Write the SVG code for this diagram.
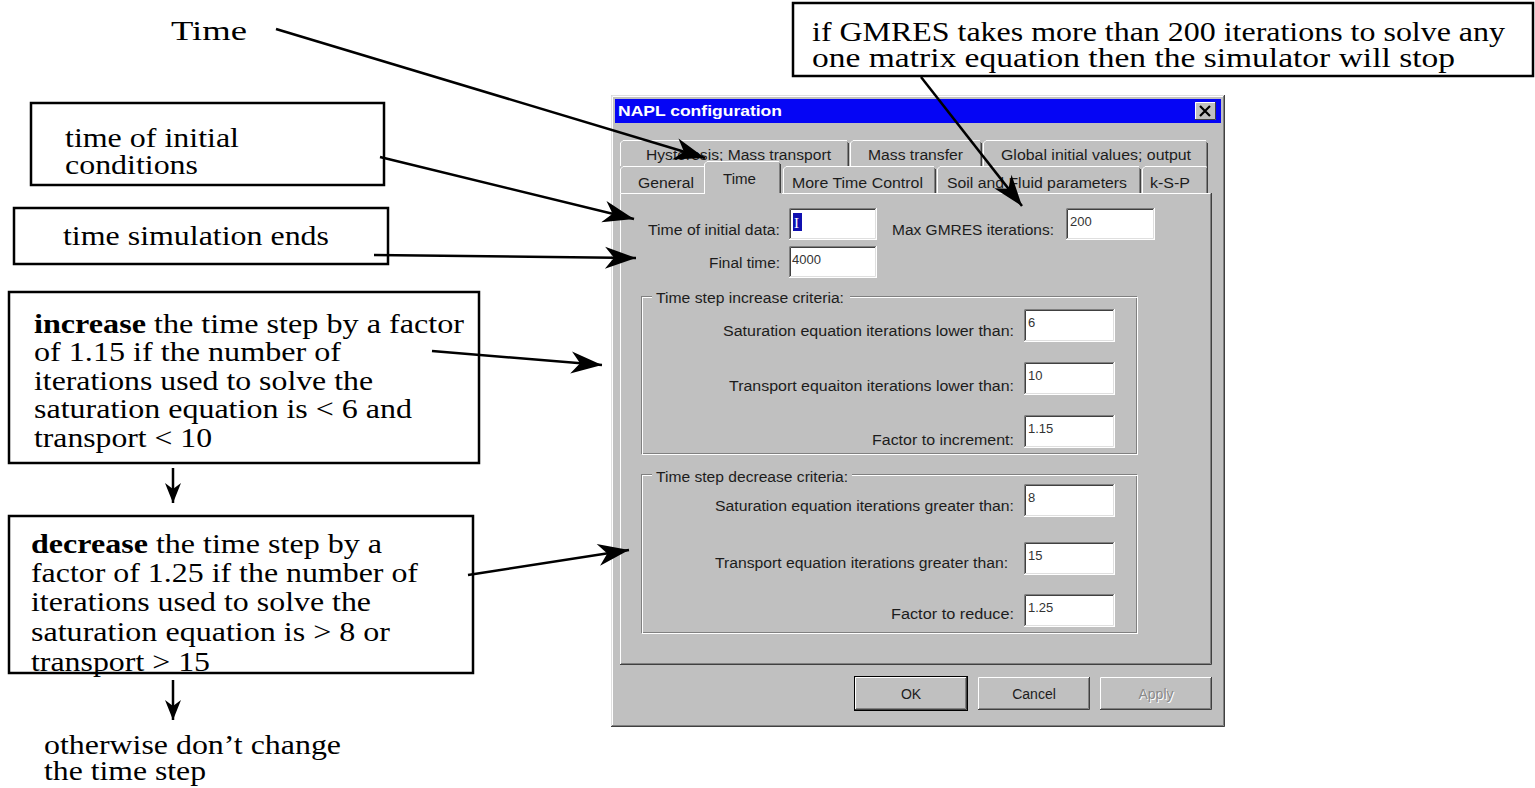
<svg xmlns="http://www.w3.org/2000/svg" width="1535" height="788" viewBox="0 0 1535 788">
<style>
.ann{font-family:"Liberation Serif","Times New Roman",serif;font-size:28px;fill:#000}
.tight{font-size:27px}
.box{fill:none;stroke:#000;stroke-width:2.5}
.conn{fill:none;stroke:#000;stroke-width:2.5}
.ui{font-family:"Liberation Sans",Arial,sans-serif;font-size:14px;fill:#1c1c1c}
.val{font-family:"Liberation Sans",Arial,sans-serif;font-size:13px;fill:#333}
.hl{fill:none;stroke:#ffffff;stroke-width:1}
.lt{fill:none;stroke:#dfdfdf;stroke-width:1}
.sh{fill:none;stroke:#808080;stroke-width:1}
.dk{fill:none;stroke:#404040;stroke-width:1}
.field{fill:#ffffff}
.face{fill:#c0c0c0}
</style>
<defs>
<marker id="ah" markerUnits="userSpaceOnUse" viewBox="-32 -12 34 24" markerWidth="34" markerHeight="24" refX="0" refY="0" orient="auto">
<path d="M0,0 L-31,-11 L-22,0 L-31,11 Z" fill="#000"/>
</marker>
<marker id="ahs" markerUnits="userSpaceOnUse" viewBox="-22 -9 24 18" markerWidth="24" markerHeight="18" refX="0" refY="0" orient="auto">
<path d="M0,0 L-20,-8 L-14,0 L-20,8 Z" fill="#000"/>
</marker>
</defs>
<rect width="1535" height="788" fill="#fff"/>

<g id="dialog">
<rect class="face" x="611" y="95" width="614" height="632"/>
<path class="lt" d="M611.5,726 V95.5 H1224"/>
<path class="hl" d="M612.5,725 V96.5 H1223"/>
<path class="dk" d="M611,726.5 H1224.5 V95"/>
<path class="sh" d="M612,725.5 H1223.5 V96"/>
<rect x="615" y="99" width="606" height="24" fill="#0505f5"/>
<text x="618" y="116" font-family="Liberation Sans,Arial,sans-serif" font-size="14" font-weight="bold" fill="#fff" textLength="164" lengthAdjust="spacingAndGlyphs">NAPL configuration</text>
<rect class="face" x="1195" y="102" width="21" height="18"/>
<path class="hl" d="M1195.5,120 V102.5 H1216"/>
<path class="dk" d="M1195,119.5 H1215.5 V102"/>
<path d="M1200,106 L1210,116 M1210,106 L1200,116" stroke="#000" stroke-width="2.2"/>

<g id="tabs">
<path class="hl" d="M620.5,166 V143 L623,140.5 H847"/>
<path class="sh" d="M847.5,142 V166"/><path class="dk" d="M848.5,143 V166"/>
<path class="hl" d="M850.5,166 V143 L853,140.5 H980"/>
<path class="sh" d="M980.5,142 V166"/><path class="dk" d="M981.5,143 V166"/>
<path class="hl" d="M983.5,166 V143 L986,140.5 H1206"/>
<path class="sh" d="M1206.5,142 V192"/><path class="dk" d="M1207.5,143 V192"/>

<rect class="face" x="621" y="166" width="586" height="27"/>
<path class="hl" d="M620.5,193 V169 L623,166.5 H704"/>
<path class="hl" d="M783.5,193 V169 L786,166.5 H934"/>
<path class="sh" d="M934.5,168 V193"/><path class="dk" d="M935.5,169 V193"/>
<path class="hl" d="M937.5,193 V169 L940,166.5 H1139"/>
<path class="sh" d="M1139.5,168 V193"/><path class="dk" d="M1140.5,169 V193"/>
<path class="hl" d="M1142.5,193 V169 L1145,166.5 H1206"/>
<path class="sh" d="M1206.5,168 V193"/><path class="dk" d="M1207.5,169 V193"/>

<text class="ui" x="646" y="160" textLength="185" lengthAdjust="spacingAndGlyphs">Hysteresis; Mass transport</text>
<text class="ui" x="868" y="160" textLength="95" lengthAdjust="spacingAndGlyphs">Mass transfer</text>
<text class="ui" x="1001" y="160" textLength="190" lengthAdjust="spacingAndGlyphs">Global initial values; output</text>
<text class="ui" x="638" y="188" textLength="56" lengthAdjust="spacingAndGlyphs">General</text>
<text class="ui" x="792" y="188" textLength="131" lengthAdjust="spacingAndGlyphs">More Time Control</text>
<text class="ui" x="947" y="188" textLength="180" lengthAdjust="spacingAndGlyphs">Soil and Fluid parameters</text>
<text class="ui" x="1150" y="188" textLength="40" lengthAdjust="spacingAndGlyphs">k-S-P</text>
</g>

<g id="panel">
<path class="hl" d="M620.5,664 V193.5 H705"/>
<path class="hl" d="M782,193.5 H1210"/>
<path class="sh" d="M621,663.5 H1210.5 V194"/>
<path class="dk" d="M620,664.5 H1211.5 V193"/>
<rect class="face" x="705" y="161" width="77" height="34"/>
<path class="hl" d="M704.5,194 V164 L707,161.5 H779"/>
<path class="sh" d="M779.5,163 V193"/><path class="dk" d="M780.5,164 V193"/>
<text class="ui" x="723" y="184" textLength="33" lengthAdjust="spacingAndGlyphs">Time</text>
</g>

<g id="fields">
<text class="ui" x="648" y="235" textLength="132" lengthAdjust="spacingAndGlyphs">Time of initial data:</text>
<text class="ui" x="892" y="235" textLength="162" lengthAdjust="spacingAndGlyphs">Max GMRES iterations:</text>
<text class="ui" x="709" y="268" textLength="71" lengthAdjust="spacingAndGlyphs">Final time:</text>

<rect class="field" x="789" y="208" width="88" height="32"/>
<path class="sh" d="M789.5,240 V208.5 H877"/><path class="dk" d="M790.5,239 V209.5 H876"/>
<path class="hl" d="M789,239.5 H876.5 V208"/><path class="lt" d="M790,238.5 H875.5 V209"/>
<rect x="793" y="213" width="9" height="18" fill="#1010b0"/>
<text x="794" y="228" font-family="Liberation Serif,serif" font-size="15" fill="#fff">I</text>

<rect class="field" x="1066" y="208" width="89" height="32"/>
<path class="sh" d="M1066.5,240 V208.5 H1155"/><path class="dk" d="M1067.5,239 V209.5 H1154"/>
<path class="hl" d="M1066,239.5 H1154.5 V208"/><path class="lt" d="M1067,238.5 H1153.5 V209"/>
<text class="val" x="1070" y="226">200</text>

<rect class="field" x="789" y="246" width="88" height="32"/>
<path class="sh" d="M789.5,278 V246.5 H877"/><path class="dk" d="M790.5,277 V247.5 H876"/>
<path class="hl" d="M789,277.5 H876.5 V246"/><path class="lt" d="M790,276.5 H875.5 V247"/>
<text class="val" x="792" y="264">4000</text>
</g>

<g id="increase-group">
<rect class="sh" x="641.5" y="296.5" width="495" height="157"/>
<rect class="hl" x="642.5" y="297.5" width="495" height="157"/>
<rect class="face" x="652" y="289" width="198" height="16"/>
<text class="ui" x="656" y="303" textLength="188" lengthAdjust="spacingAndGlyphs">Time step increase criteria:</text>
<text class="ui" x="723" y="336" textLength="291" lengthAdjust="spacingAndGlyphs">Saturation equation iterations lower than:</text>
<text class="ui" x="729" y="391" textLength="285" lengthAdjust="spacingAndGlyphs">Transport equaiton iterations lower than:</text>
<text class="ui" x="872" y="445" textLength="142" lengthAdjust="spacingAndGlyphs">Factor to increment:</text>

<rect class="field" x="1024" y="309" width="91" height="33"/>
<path class="sh" d="M1024.5,342 V309.5 H1115"/><path class="dk" d="M1025.5,341 V310.5 H1114"/>
<path class="hl" d="M1024,341.5 H1114.5 V309"/><path class="lt" d="M1025,340.5 H1113.5 V310"/>
<text class="val" x="1028" y="327">6</text>

<rect class="field" x="1024" y="362" width="91" height="33"/>
<path class="sh" d="M1024.5,395 V362.5 H1115"/><path class="dk" d="M1025.5,394 V363.5 H1114"/>
<path class="hl" d="M1024,394.5 H1114.5 V362"/><path class="lt" d="M1025,393.5 H1113.5 V363"/>
<text class="val" x="1028" y="380">10</text>

<rect class="field" x="1024" y="415" width="91" height="33"/>
<path class="sh" d="M1024.5,448 V415.5 H1115"/><path class="dk" d="M1025.5,447 V416.5 H1114"/>
<path class="hl" d="M1024,447.5 H1114.5 V415"/><path class="lt" d="M1025,446.5 H1113.5 V416"/>
<text class="val" x="1028" y="433">1.15</text>
</g>

<g id="decrease-group">
<rect class="sh" x="641.5" y="474.5" width="495" height="158"/>
<rect class="hl" x="642.5" y="475.5" width="495" height="158"/>
<rect class="face" x="652" y="468" width="200" height="16"/>
<text class="ui" x="656" y="482" textLength="192" lengthAdjust="spacingAndGlyphs">Time step decrease criteria:</text>
<text class="ui" x="715" y="511" textLength="299" lengthAdjust="spacingAndGlyphs">Saturation equation iterations greater than:</text>
<text class="ui" x="715" y="568" textLength="293" lengthAdjust="spacingAndGlyphs">Transport equation iterations greater than:</text>
<text class="ui" x="891" y="619" textLength="123" lengthAdjust="spacingAndGlyphs">Factor to reduce:</text>

<rect class="field" x="1024" y="484" width="91" height="33"/>
<path class="sh" d="M1024.5,517 V484.5 H1115"/><path class="dk" d="M1025.5,516 V485.5 H1114"/>
<path class="hl" d="M1024,516.5 H1114.5 V484"/><path class="lt" d="M1025,515.5 H1113.5 V485"/>
<text class="val" x="1028" y="502">8</text>

<rect class="field" x="1024" y="542" width="91" height="33"/>
<path class="sh" d="M1024.5,575 V542.5 H1115"/><path class="dk" d="M1025.5,574 V543.5 H1114"/>
<path class="hl" d="M1024,574.5 H1114.5 V542"/><path class="lt" d="M1025,573.5 H1113.5 V543"/>
<text class="val" x="1028" y="560">15</text>

<rect class="field" x="1024" y="594" width="91" height="33"/>
<path class="sh" d="M1024.5,627 V594.5 H1115"/><path class="dk" d="M1025.5,626 V595.5 H1114"/>
<path class="hl" d="M1024,626.5 H1114.5 V594"/><path class="lt" d="M1025,625.5 H1113.5 V595"/>
<text class="val" x="1028" y="612">1.25</text>
</g>

<g id="buttons">
<rect x="854.5" y="676.5" width="113" height="34" fill="#c0c0c0" stroke="#000" stroke-width="1"/>
<path class="hl" d="M855.5,709 V677.5 H966"/>
<path class="sh" d="M856,708.5 H965.5 V678"/>
<path class="dk" d="M855,709.5 H966.5 V677"/>
<text class="ui" x="911" y="699" text-anchor="middle">OK</text>

<rect class="face" x="978" y="677" width="112" height="33"/>
<path class="hl" d="M978.5,710 V677.5 H1089"/>
<path class="sh" d="M979,708.5 H1088.5 V678"/>
<path class="dk" d="M978,709.5 H1089.5 V677"/>
<text class="ui" x="1034" y="699" text-anchor="middle">Cancel</text>

<rect class="face" x="1100" y="677" width="112" height="33"/>
<path class="hl" d="M1100.5,710 V677.5 H1211"/>
<path class="sh" d="M1101,708.5 H1210.5 V678"/>
<path class="dk" d="M1100,709.5 H1211.5 V677"/>
<text class="ui" x="1157" y="700" text-anchor="middle" style="fill:#fff">Apply</text>
<text class="ui" x="1156" y="699" text-anchor="middle" style="fill:#8a8a8a">Apply</text>
</g>
</g>

<g id="n-time">
<text class="ann" x="171" y="40" font-size="32" textLength="76" lengthAdjust="spacingAndGlyphs">Time</text>
</g>
<g id="n-gmres">
<rect class="box" x="793" y="3" width="740" height="73"/>
<text class="ann tight" x="812" y="41" textLength="693" lengthAdjust="spacingAndGlyphs">if GMRES takes more than 200 iterations to solve any</text>
<text class="ann tight" x="812" y="67" textLength="643" lengthAdjust="spacingAndGlyphs">one matrix equation then the simulator will stop</text>
</g>
<g id="n-initial">
<rect class="box" x="31" y="103" width="353" height="82"/>
<text class="ann" x="65" y="147" textLength="174" lengthAdjust="spacingAndGlyphs">time of initial</text>
<text class="ann" x="65" y="174" textLength="133" lengthAdjust="spacingAndGlyphs">conditions</text>
</g>
<g id="n-simends">
<rect class="box" x="14" y="208" width="374" height="56"/>
<text class="ann" x="63" y="245" font-size="30" textLength="266" lengthAdjust="spacingAndGlyphs">time simulation ends</text>
</g>
<g id="n-increase">
<rect class="box" x="9" y="292" width="470" height="171"/>
<text class="ann" x="34" y="333" textLength="430" lengthAdjust="spacingAndGlyphs"><tspan font-weight="bold">increase</tspan> the time step by a factor</text>
<text class="ann" x="34" y="361" textLength="307" lengthAdjust="spacingAndGlyphs">of 1.15 if the number of</text>
<text class="ann" x="34" y="390" textLength="339" lengthAdjust="spacingAndGlyphs">iterations used to solve the</text>
<text class="ann" x="34" y="418" textLength="378" lengthAdjust="spacingAndGlyphs">saturation equation is &lt; 6 and</text>
<text class="ann" x="34" y="447" textLength="178" lengthAdjust="spacingAndGlyphs">transport &lt; 10</text>
</g>
<g id="n-decrease">
<text class="ann" x="31" y="553" textLength="351" lengthAdjust="spacingAndGlyphs"><tspan font-weight="bold">decrease</tspan> the time step by a</text>
<text class="ann" x="31" y="582" textLength="387" lengthAdjust="spacingAndGlyphs">factor of 1.25 if the number of</text>
<text class="ann" x="31" y="611" textLength="340" lengthAdjust="spacingAndGlyphs">iterations used to solve the</text>
<text class="ann" x="31" y="641" textLength="359" lengthAdjust="spacingAndGlyphs">saturation equation is &gt; 8 or</text>
<text class="ann" x="31" y="671" textLength="179" lengthAdjust="spacingAndGlyphs">transport &gt; 15</text>
<rect class="box" x="9" y="516" width="464" height="157"/>
</g>
<g id="n-otherwise">
<text class="ann tight" x="44" y="754" textLength="297" lengthAdjust="spacingAndGlyphs">otherwise don’t change</text>
<text class="ann tight" x="44" y="780" textLength="162" lengthAdjust="spacingAndGlyphs">the time step</text>
</g>

<g id="connectors">
<line class="conn" x1="276" y1="29" x2="705" y2="158" marker-end="url(#ah)"/>
<line class="conn" x1="921" y1="77" x2="1022" y2="206" marker-end="url(#ah)"/>
<line class="conn" x1="380" y1="157" x2="634" y2="219" marker-end="url(#ah)"/>
<line class="conn" x1="374" y1="255" x2="636" y2="258" marker-end="url(#ah)"/>
<line class="conn" x1="432" y1="351" x2="602" y2="365" marker-end="url(#ah)"/>
<line class="conn" x1="468" y1="575" x2="629" y2="550" marker-end="url(#ah)"/>
<line class="conn" x1="173" y1="468" x2="173" y2="503" marker-end="url(#ahs)"/>
<line class="conn" x1="173" y1="680" x2="173" y2="720" marker-end="url(#ahs)"/>
</g>
</svg>
